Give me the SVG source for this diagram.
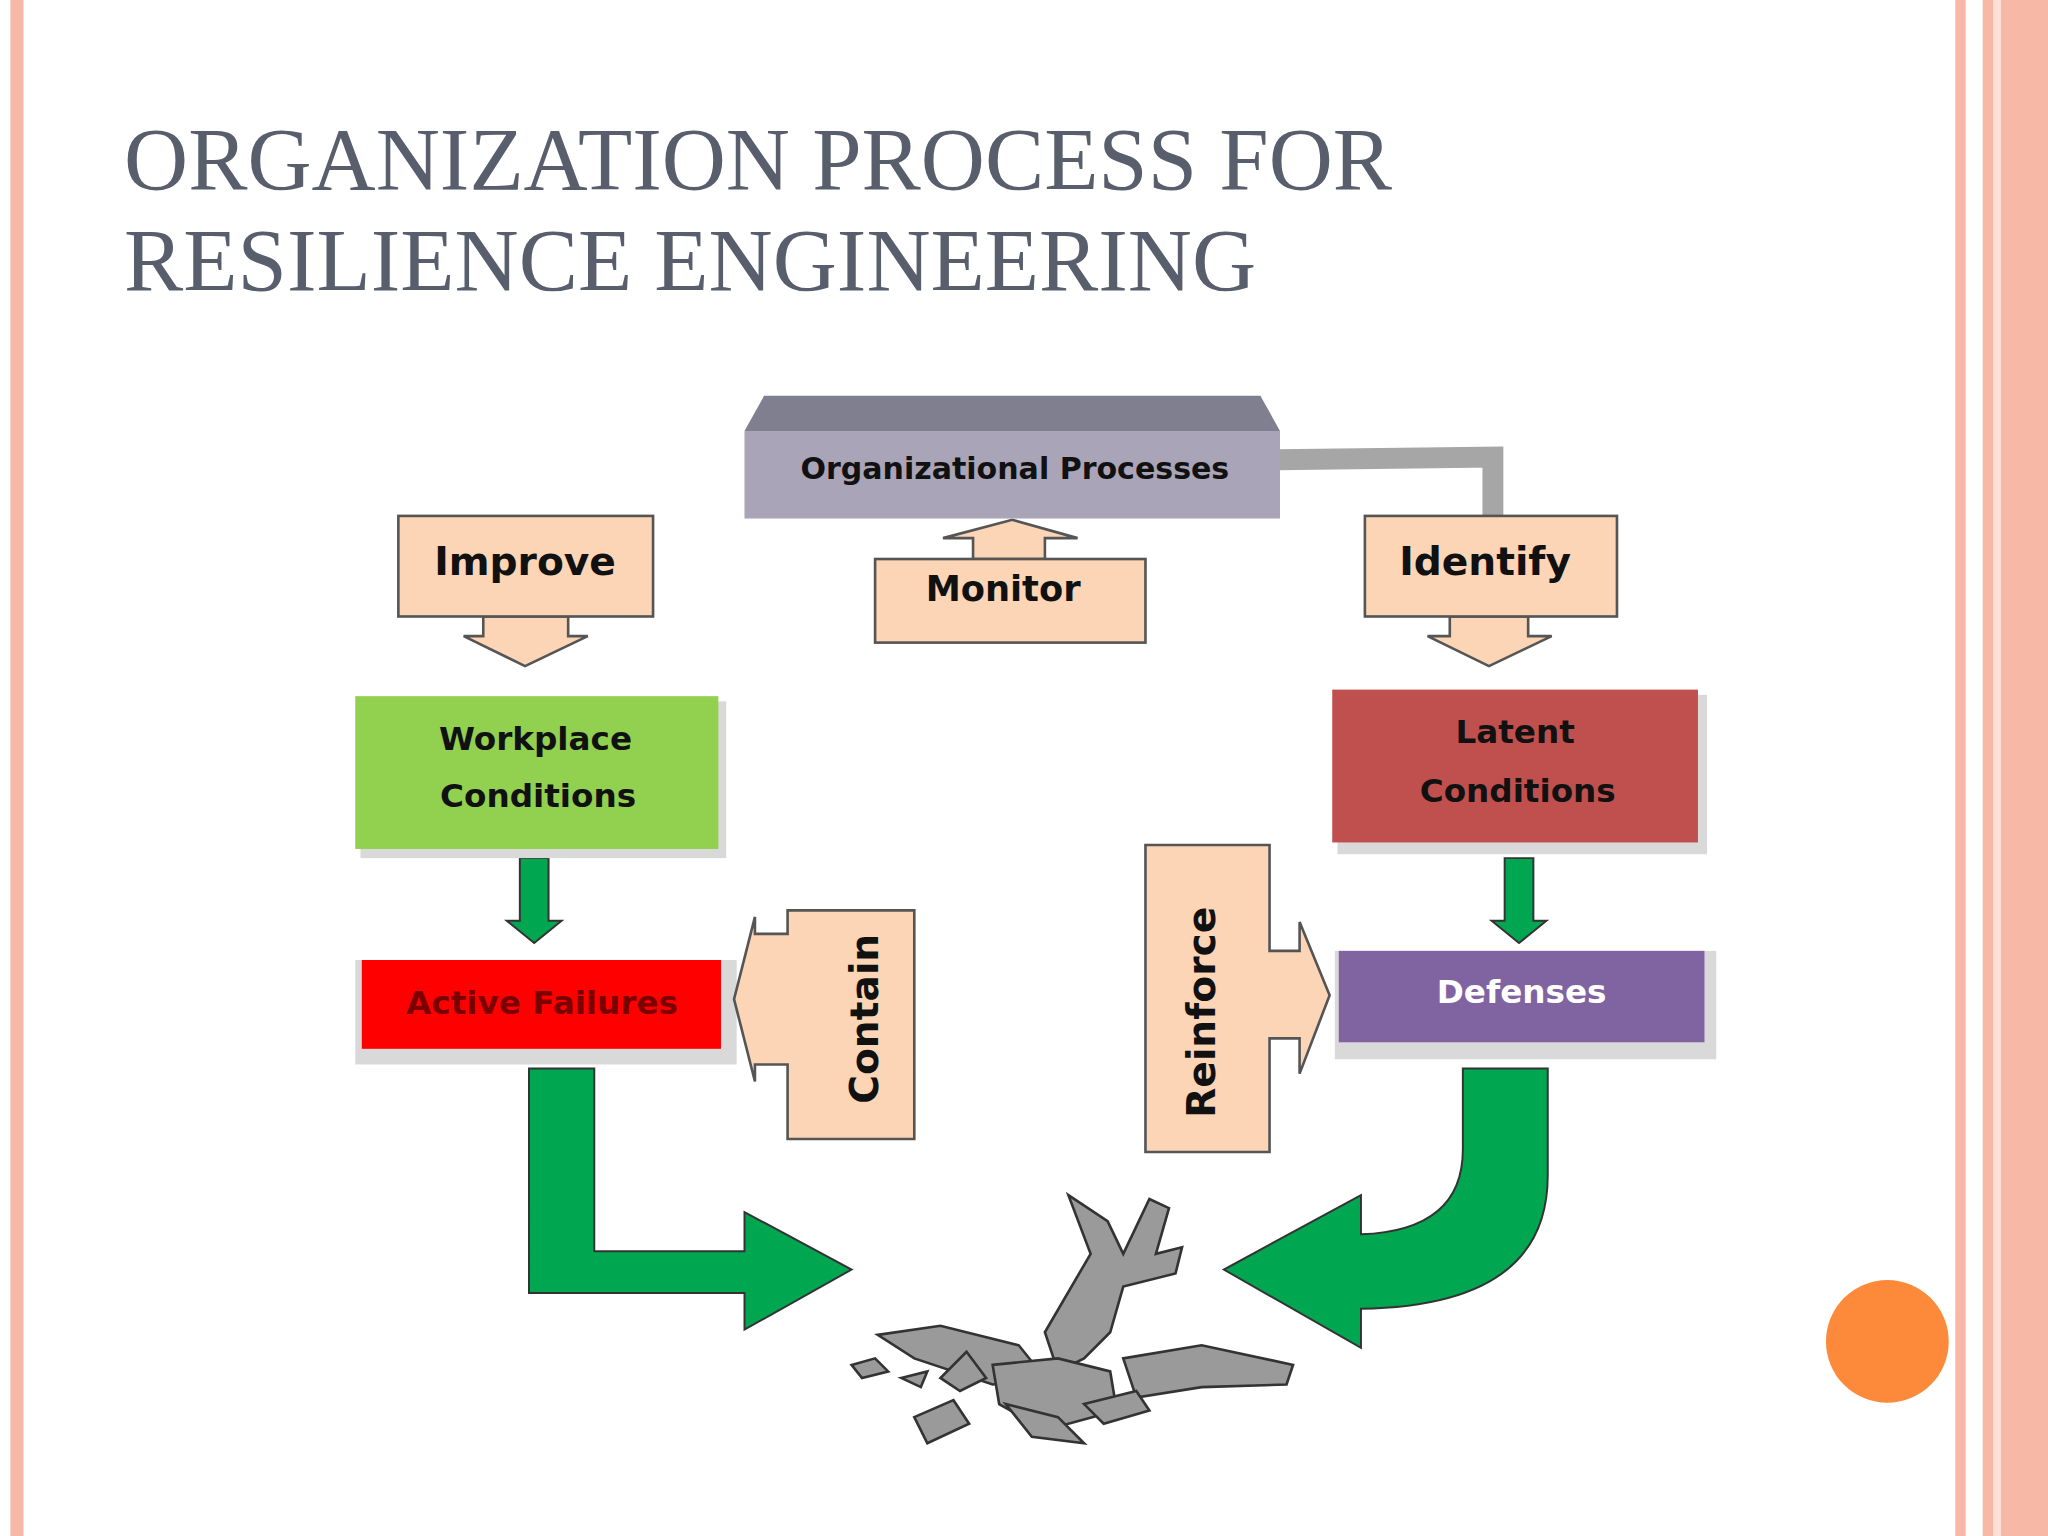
<svg xmlns="http://www.w3.org/2000/svg" width="2048" height="1536" viewBox="0 0 2048 1536">
<style>
.lbl{font-family:"DejaVu Sans",sans-serif;font-weight:bold;fill:#111}
.pch{fill:#fbd5b5;stroke:#555;stroke-width:2}
.gr{fill:#00a650;stroke:#333;stroke-width:1.5}
</style>
<rect width="2048" height="1536" fill="#fff"/>
<g transform="scale(1.30612)">
<rect x="8" y="0" width="10" height="1176" fill="#f7b9a6"/>
<rect x="1497" y="0" width="8" height="1176" fill="#f7b9a6"/>
<rect x="1518" y="0" width="50" height="1176" fill="#f7b9a6"/>
<rect x="1526" y="0" width="6" height="1176" fill="#fce0d6"/>
<g id="title" font-family="Liberation Serif,serif" font-size="68" fill="#585e6c">
<text x="95" y="145">ORGANIZATION PROCESS FOR</text>
<text x="95" y="222">RESILIENCE ENGINEERING</text>
</g>
<g id="connectors">
<polyline points="978,352 1143,350 1143,397" fill="none" stroke="#a6a6a6" stroke-width="16"/>
<polygon points="370,472 435,472 435,487 450,487 402,510 355,487 370,487" class="pch"/>
<polygon points="1110,472 1170,472 1170,487 1188,487 1140,510 1093,487 1110,487" class="pch"/>
<polygon points="745,428 800,428 800,412 825,412 775,398 722,412 745,412" class="pch"/>
<polygon points="398,657 420,657 420,705 430,705 409,722 388,705 398,705" class="gr"/>
<polygon points="1152,657 1174,657 1174,705 1184,705 1163,722 1142,705 1152,705" class="gr"/>
<polygon points="405,818 455,818 455,958 570,958 570,928 652,972 570,1018 570,990 405,990" class="gr"/>
<polygon points="1122,818 1185,818 1185,900 C" class="gr" style="display:none"/>
<path d="M1120,818 L1185,818 L1185,900 Q1185,1000 1042,1002 L1042,1032 L937,972 L1042,915 L1042,945 Q1120,942 1120,880 Z" class="gr"/>
</g>
<g id="orgproc">
<polygon points="585,303 965,303 980,330 570,330" fill="#7f7f8f"/>
<rect x="570" y="330" width="410" height="67" fill="#a9a4b8"/>
<text x="777" y="367" text-anchor="middle" class="lbl" font-size="23">Organizational Processes</text>
</g>
<g id="improve"><rect x="305" y="395" width="195" height="77" class="pch"/><text x="402" y="440" text-anchor="middle" class="lbl" font-size="30">Improve</text></g>
<g id="monitor"><rect x="670" y="428" width="207" height="64" class="pch"/><text x="768" y="460" text-anchor="middle" class="lbl" font-size="27">Monitor</text></g>
<g id="identify"><rect x="1045" y="395" width="193" height="77" class="pch"/><text x="1137" y="440" text-anchor="middle" class="lbl" font-size="30">Identify</text></g>
<g id="workplace"><rect x="276" y="537" width="280" height="120" fill="#d9d9d9"/><rect x="272" y="533" width="278" height="117" fill="#92d050"/>
<text x="410" y="574" text-anchor="middle" class="lbl" font-size="25">Workplace</text><text x="412" y="618" text-anchor="middle" class="lbl" font-size="25">Conditions</text></g>
<g id="latent"><rect x="1024" y="532" width="283" height="122" fill="#d9d9d9"/><rect x="1020" y="528" width="280" height="117" fill="#c0504d"/>
<text x="1160" y="569" text-anchor="middle" class="lbl" font-size="25">Latent</text><text x="1162" y="614" text-anchor="middle" class="lbl" font-size="25">Conditions</text></g>
<g id="active"><rect x="272" y="735" width="292" height="80" fill="#d9d9d9"/><rect x="277" y="735" width="275" height="68" fill="#ff0000"/>
<text x="415" y="776" text-anchor="middle" class="lbl" font-size="25" fill="#7a0000" style="fill:#7a0000">Active Failures</text></g>
<g id="defenses"><rect x="1022" y="728" width="292" height="83" fill="#d9d9d9"/><rect x="1025" y="728" width="280" height="70" fill="#8064a2"/>
<text x="1165" y="768" text-anchor="middle" class="lbl" font-size="25" style="fill:#fff">Defenses</text></g>
<g id="contain"><path d="M603,697 L700,697 L700,872 L603,872 L603,815 L578,815 L578,828 L562,765 L578,702 L578,715 L603,715 Z" class="pch" transform="translate(0,0)"/>
<text transform="translate(672,780) rotate(-90)" text-anchor="middle" class="lbl" font-size="30">Contain</text></g>
<g id="reinforce"><path d="M877,647 L972,647 L972,728 L995,728 L995,706 L1018,762 L995,822 L995,795 L972,795 L972,882 L877,882 Z" class="pch"/>
<text transform="translate(930,775) rotate(-90)" text-anchor="middle" class="lbl" font-size="30">Reinforce</text></g>
<g id="crash" fill="#9a9a9a" stroke="#333" stroke-width="2">
<polygon points="818,915 848,935 860,960 880,918 895,925 885,960 905,955 900,975 860,985 850,1020 830,1040 810,1050 800,1020 835,960"/>
<polygon points="860,1040 920,1030 990,1045 985,1060 920,1062 870,1070"/>
<polygon points="672,1022 720,1015 780,1030 800,1055 760,1060 700,1040"/>
<polygon points="760,1045 810,1040 850,1050 855,1080 800,1095 765,1075"/>
<polygon points="740,1035 755,1055 735,1065 720,1055"/>
<polygon points="770,1075 810,1085 830,1105 790,1100"/>
<polygon points="652,1045 670,1040 680,1050 660,1055"/>
<polygon points="690,1055 710,1050 705,1062"/>
<polygon points="700,1085 730,1072 742,1090 710,1105"/>
<polygon points="830,1075 870,1065 880,1080 845,1090"/>
</g>
<circle id="dot" cx="1445" cy="1027" r="47" fill="#fd8a3a"/>
</g>
</svg>
